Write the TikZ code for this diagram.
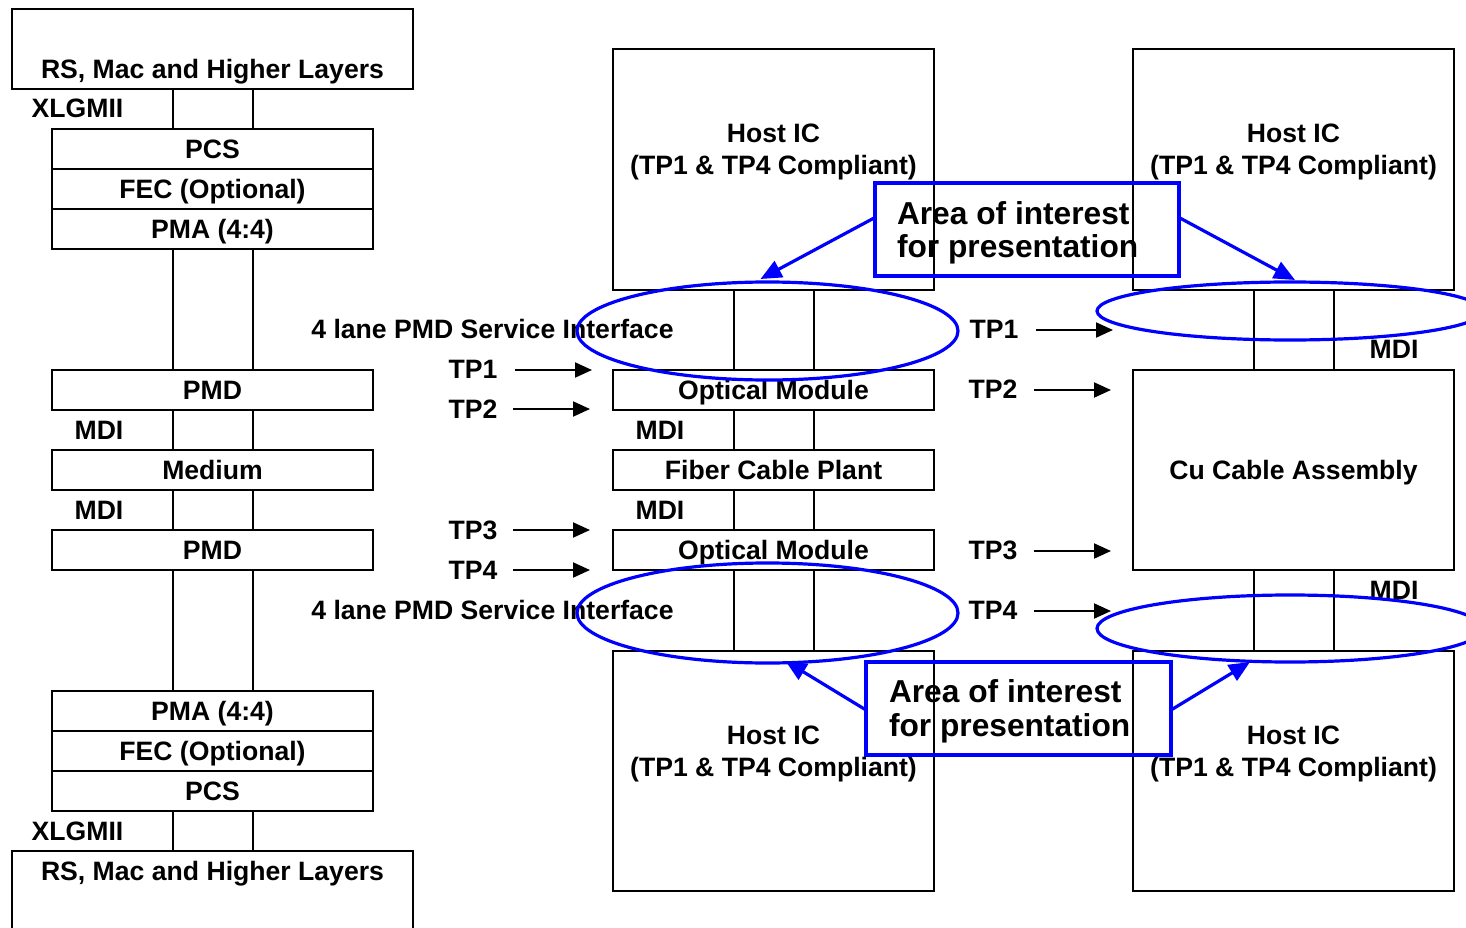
\documentclass[tikz,border=0pt]{standalone}
\usepackage{fontspec}
\setmainfont{Liberation Sans}
\usetikzlibrary{arrows.meta,shapes.geometric}
\definecolor{callblue}{RGB}{0,0,255}
\begin{document}
\begin{tikzpicture}[x=1pt,y=-1pt,
  every node/.style={font=\fontsize{26.6}{32}\selectfont\bfseries, inner sep=0pt, outer sep=0pt},
  lbl/.style={text height=19pt, text depth=0pt},
  layer/.style={draw, line width=2pt, minimum width=321pt, minimum height=40pt, text height=19pt, text depth=0pt},
  link/.style={line width=2pt},
  tparrow/.style={line width=2pt, -{Triangle[length=17pt,width=15pt]}},
  callout/.style={draw=callblue, line width=3.2pt, minimum height=93pt},
  calltext/.style={font=\fontsize{31.7}{34}\selectfont\bfseries, text height=22.7pt, text depth=0pt, anchor=west},
  area/.style={ellipse, draw=callblue, line width=3.2pt},
  callarrow/.style={draw=callblue, line width=3.2pt, -{Triangle[length=21pt,width=18pt]}}
]
\useasboundingbox (0,0) rectangle (1466,928);
\clip (0,0) rectangle (1466,928);

% ---- left: layer stack ----
\node[layer, minimum width=401pt, minimum height=80pt] (rsT) at (212.5,49) {};
\node[lbl] (rsTtxt) at (212.5,69) {RS, Mac and Higher Layers};
\node[lbl] (xlT) at (77.5,108) {XLGMII};
\node[layer] (pcsT) at (212.5,149) {PCS};
\node[layer] (fecT) at (212.5,189) {FEC (Optional)};
\node[layer] (pmaT) at (212.5,229) {PMA (4:4)};
\node[layer] (pmdT) at (212.5,390) {PMD};
\node[lbl] (mdiL1) at (99,430) {MDI};
\node[layer] (medium) at (212.5,470) {Medium};
\node[lbl] (mdiL2) at (99,510) {MDI};
\node[layer] (pmdB) at (212.5,550) {PMD};
\node[layer] (pmaB) at (212.5,711) {PMA (4:4)};
\node[layer] (fecB) at (212.5,751) {FEC (Optional)};
\node[layer] (pcsB) at (212.5,791) {PCS};
\node[lbl] (xlB) at (77.5,831) {XLGMII};
\node[layer, minimum width=401pt, minimum height=80pt] (rsB) at (212.5,891) {};
\node[lbl] (rsBtxt) at (212.5,871) {RS, Mac and Higher Layers};

% ---- middle: optical link ----
\node[layer, minimum height=241pt] (hostA) at (773.5,169.5) {};
\node[lbl] (hostA1) at (773.5,133) {Host IC};
\node[lbl] (hostA2) at (773.5,165) {(TP1 \& TP4 Compliant)};
\node[lbl] (psiT) at (492.5,329) {4 lane PMD Service Interface};
\node[layer] (optT) at (773.5,390) {Optical Module};
\node[lbl] (mdiM1) at (660,430) {MDI};
\node[layer] (fiber) at (773.5,470) {Fiber Cable Plant};
\node[lbl] (mdiM2) at (660,510) {MDI};
\node[layer] (optB) at (773.5,550) {Optical Module};
\node[lbl] (psiB) at (492.5,610) {4 lane PMD Service Interface};
\node[layer, minimum height=240pt] (hostC) at (773.5,771) {};
\node[lbl] (hostC1) at (773.5,735) {Host IC};
\node[lbl] (hostC2) at (773.5,767) {(TP1 \& TP4 Compliant)};

\node[lbl] (tpA1) at (473,369) {TP1};
\node[lbl] (tpA2) at (473,409) {TP2};
\node[lbl] (tpA3) at (473,530) {TP3};
\node[lbl] (tpA4) at (473,570) {TP4};

% ---- right: copper link ----
\node[layer, minimum height=241pt] (hostB) at (1293.5,169.5) {};
\node[lbl] (hostB1) at (1293.5,133) {Host IC};
\node[lbl] (hostB2) at (1293.5,165) {(TP1 \& TP4 Compliant)};
\node[lbl] (mdiR1) at (1394,349) {MDI};
\node[layer, minimum height=200pt] (cu) at (1293.5,470) {Cu Cable Assembly};
\node[lbl] (mdiR2) at (1394,590) {MDI};
\node[layer, minimum height=240pt] (hostD) at (1293.5,771) {};
\node[lbl] (hostD1) at (1293.5,735) {Host IC};
\node[lbl] (hostD2) at (1293.5,767) {(TP1 \& TP4 Compliant)};

\node[lbl] (tpB1) at (994,329) {TP1};
\node[lbl] (tpB2) at (993,389) {TP2};
\node[lbl] (tpB3) at (993,550) {TP3};
\node[lbl] (tpB4) at (993,610) {TP4};

% ---- lane pairs between layers ----
\foreach \a/\b in {rsT/pcsT, pmaT/pmdT, pmdT/medium, medium/pmdB, pmdB/pmaB, pcsB/rsB,
                   hostA/optT, optT/fiber, fiber/optB, optB/hostC,
                   hostB/cu, cu/hostD} {
  \draw[link] ([xshift=-40pt]\a.south) -- ([xshift=-40pt]\b.north);
  \draw[link] ([xshift=40pt]\a.south) -- ([xshift=40pt]\b.north);
}

% ---- test point arrows ----
\draw[tparrow, shorten >=21pt] ([xshift=18pt,yshift=-1pt]tpA1.east) -- ([yshift=-1pt]optT.west |- tpA1);
\foreach \t in {tpA2,tpA3,tpA4}
  \draw[tparrow, shorten >=23pt] ([xshift=16pt]\t.east) -- (optT.west |- \t);
\draw[tparrow, shorten >=20pt] ([xshift=18pt,yshift=-1pt]tpB1.east) -- ([yshift=-1pt]cu.west |- tpB1);
\foreach \t in {tpB2,tpB3,tpB4}
  \draw[tparrow, shorten >=22pt] ([xshift=17pt,yshift=-1pt]\t.east) -- ([yshift=-1pt]cu.west |- \t);

% ---- highlighted areas ----
\node[area, minimum width=381pt, minimum height=98pt] (ellA) at (767.5,331) {};
\node[area, minimum width=386pt, minimum height=58pt] (ellB) at (1290,311) {};
\node[area, minimum width=381pt, minimum height=100pt] (ellC) at (767.5,613) {};
\node[area, minimum width=386pt, minimum height=67pt] (ellD) at (1290,628.5) {};

\node[callout, minimum width=304pt] (callA) at (1027,229.5) {};
\node[calltext] (callA1) at (897,213) {Area of interest};
\node[calltext] (callA2) at (897,246) {for presentation};
\node[callout, minimum width=305pt] (callC) at (1018.5,708.5) {};
\node[calltext] (callC1) at (889,691) {Area of interest};
\node[calltext] (callC2) at (889,725) {for presentation};

\draw[callarrow] ([yshift=12pt]callA.west) -- ([xshift=-7pt,yshift=3pt]ellA.north);
\draw[callarrow] ([yshift=12pt]callA.east) -- ([xshift=5pt,yshift=2pt]ellB.north);
\draw[callarrow] ([yshift=-1.5pt]callC.west) -- ([xshift=18pt,yshift=2pt]ellC.south);
\draw[callarrow] ([yshift=-1.5pt]callC.east) -- ([xshift=-40pt]ellD.south);
\end{tikzpicture}
\end{document}
